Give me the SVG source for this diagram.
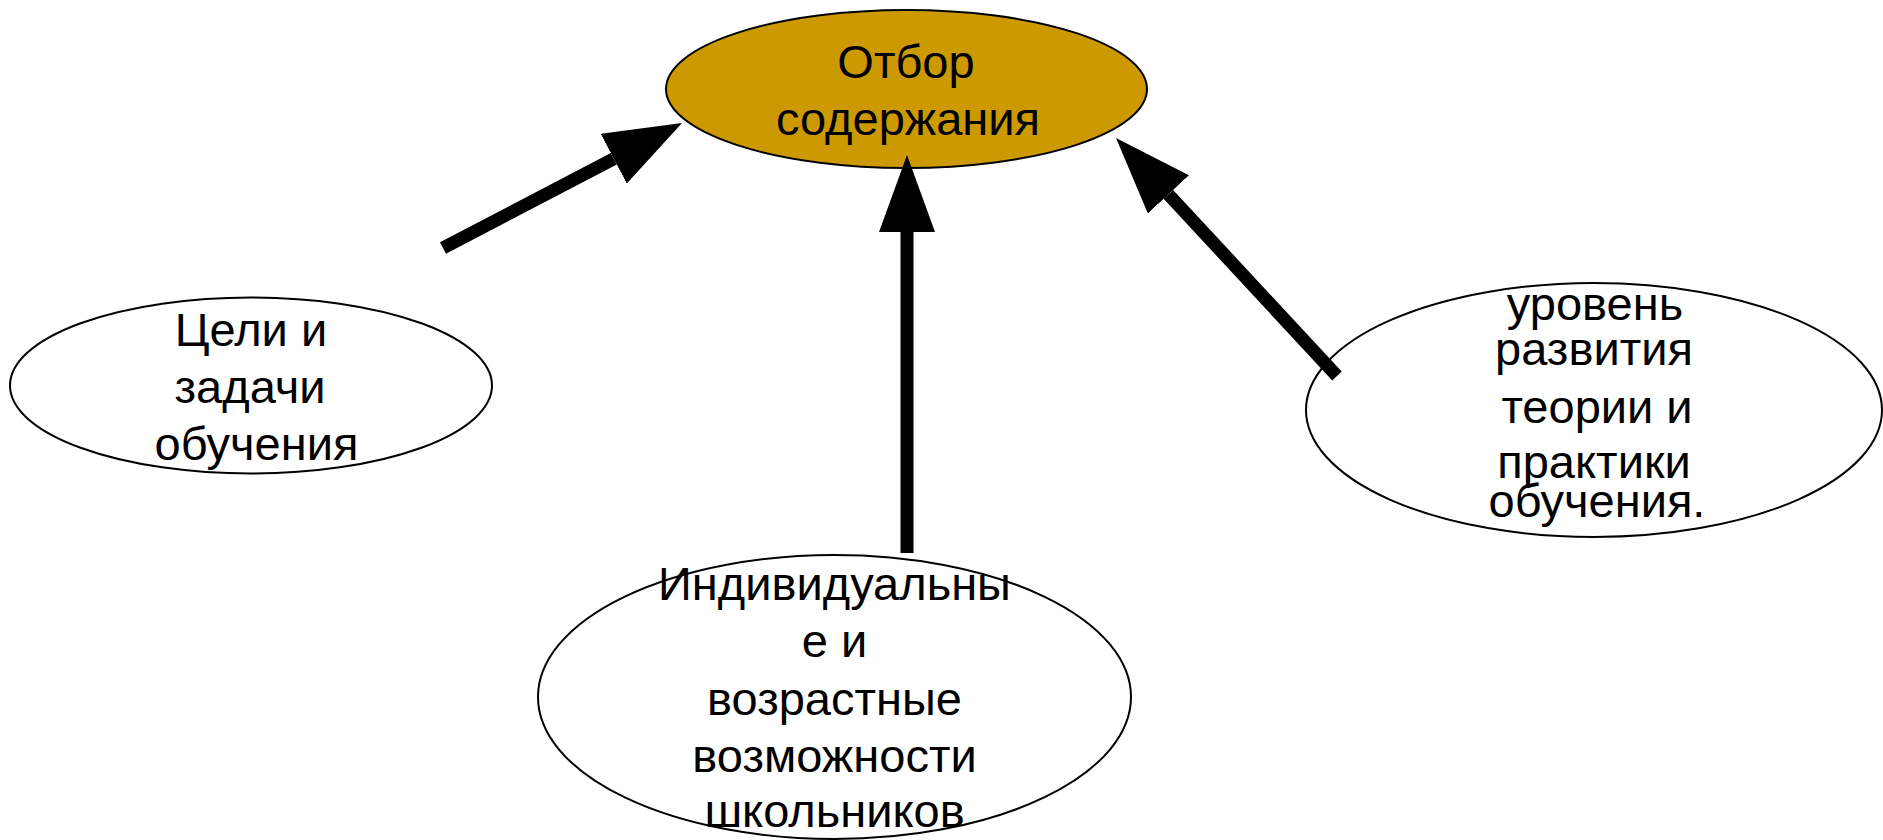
<svg xmlns="http://www.w3.org/2000/svg" width="1883" height="840" viewBox="0 0 1883 840">
<style>
.node{stroke:#000;stroke-width:2}
.main{fill:#CC9900}
.plain{fill:#fff}
.lbl{font-family:"Liberation Sans",Arial,sans-serif;font-size:47px;fill:#000;text-anchor:middle}
.conn{stroke:#000;stroke-width:13;fill:none;marker-end:url(#ah)}
</style>
<defs>
<marker id="ah" markerUnits="userSpaceOnUse" viewBox="0 0 77 56" refX="0" refY="28" markerWidth="77" markerHeight="56" orient="auto">
<path d="M0,0 L77,28 L0,56 z" fill="#000"/>
</marker>
</defs>
<rect width="1883" height="840" fill="#fff"/>
<g id="node-main">
<ellipse class="node main" cx="906.5" cy="89" rx="240.5" ry="79"/>
<text class="lbl" x="906" y="78">Отбор</text>
<text class="lbl" x="908" y="135">содержания</text>
</g>
<g id="node-goals">
<ellipse class="node plain" cx="251" cy="385.5" rx="241" ry="88"/>
<text class="lbl" x="251" y="346">Цели и</text>
<text class="lbl" x="250" y="403">задачи</text>
<text class="lbl" x="256.5" y="460">обучения</text>
</g>
<g id="node-pupils">
<ellipse class="node plain" cx="834.5" cy="697" rx="296.5" ry="142"/>
<text class="lbl" x="834.5" y="600">Индивидуальны</text>
<text class="lbl" x="834.5" y="657">е и</text>
<text class="lbl" x="834.5" y="715">возрастные</text>
<text class="lbl" x="834.5" y="772">возможности</text>
<text class="lbl" x="834.5" y="827">школьников</text>
</g>
<g id="node-theory">
<ellipse class="node plain" cx="1594" cy="410" rx="288" ry="127"/>
<text class="lbl" x="1595" y="320">уровень</text>
<text class="lbl" x="1594" y="365">развития</text>
<text class="lbl" x="1597" y="423">теории и</text>
<text class="lbl" x="1594" y="478">практики</text>
<text class="lbl" x="1597" y="517">обучения.</text>
</g>
<g id="connectors">
<line class="conn" x1="443" y1="248" x2="613.8" y2="158.7"/>
<line class="conn" x1="907" y1="553" x2="907" y2="232"/>
<line class="conn" x1="1337" y1="376" x2="1168.4" y2="194.4"/>
</g>
</svg>
